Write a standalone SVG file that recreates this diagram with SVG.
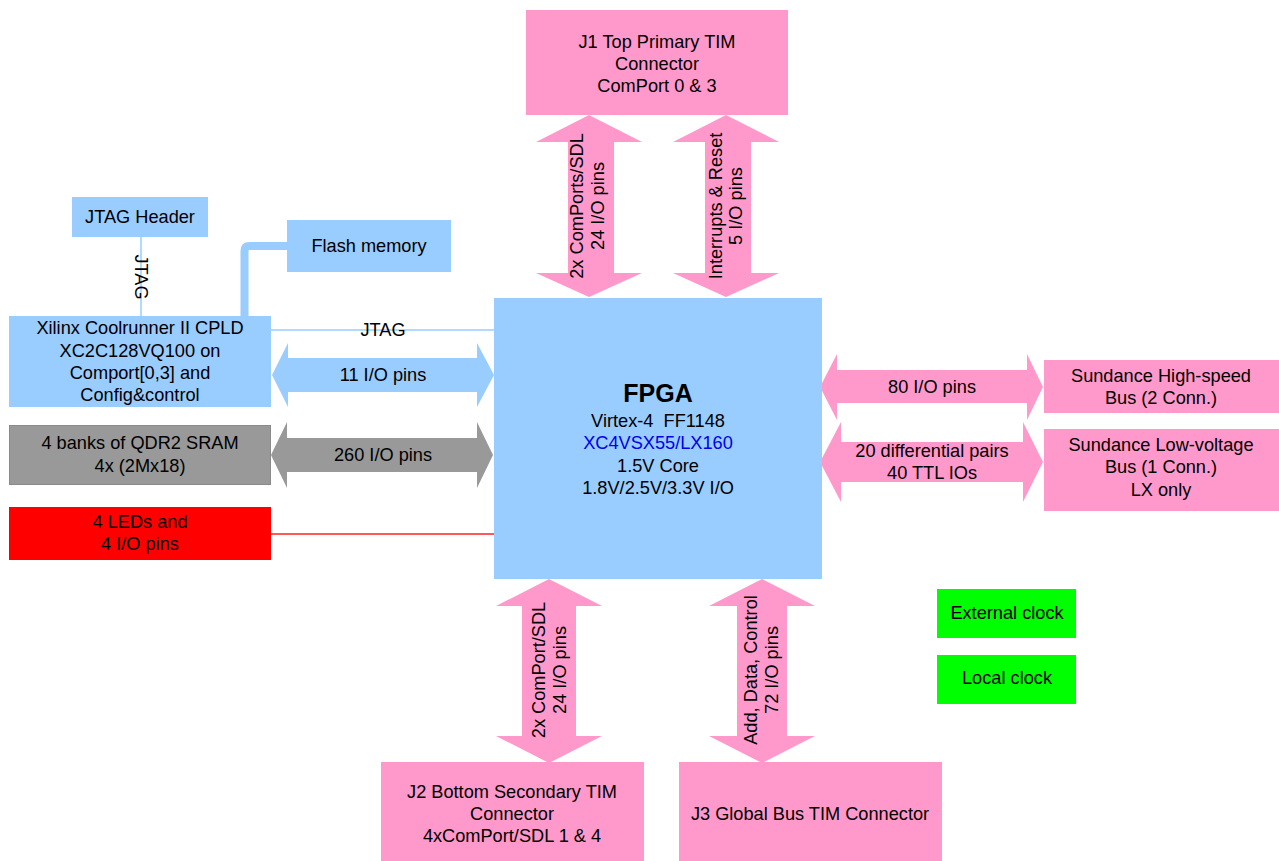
<svg xmlns="http://www.w3.org/2000/svg" width="1279" height="861" viewBox="0 0 1279 861">
<style>
text{font-family:"Liberation Sans",Arial,sans-serif;font-size:18.2px;fill:#000;text-anchor:middle}
.b{fill:#99CCFF}
.p{fill:#FF99CC}
.g{fill:#999999;stroke:#8a8a8a;stroke-width:1}
.r{fill:#FF0000}
.gr{fill:#00FF00}
.ln{stroke:#99CCFF;stroke-width:1.5;fill:none}
</style>
<rect width="1279" height="861" fill="#fff"/>
<g id="connectors">
<line class="ln" x1="141" y1="237" x2="141" y2="316"/>
<text transform="translate(135,277) rotate(90)">JTAG</text>
<line class="ln" x1="271" y1="330" x2="494" y2="330"/>
<text x="383" y="336">JTAG</text>
<path d="M244.5,316 V251 Q244.5,246 249.5,246 H287" fill="none" stroke="#99CCFF" stroke-width="8"/>
<line x1="271" y1="534" x2="494" y2="534" stroke="#FF2020" stroke-width="1.5"/>
<polygon class="b" points="272,375 288,343 288,358 477,358 477,343 494,375 477,407 477,392 288,392 288,407"/>
<text x="383" y="381">11 I/O pins</text>
<polygon fill="#999999" points="271,455 287,422 287,438 477,438 477,422 493,455 477,488 477,472 287,472 287,488"/>
<text x="383" y="461">260 I/O pins</text>
<polygon class="p" points="820,387 837,354 837,370 1027,370 1027,354 1043,387 1027,420 1027,403 837,403 837,420"/>
<text x="932" y="393">80 I/O pins</text>
<polygon class="p" points="820,462 841,422 841,442 1023,442 1023,422 1043,462 1023,502 1023,482 841,482 841,502"/>
<text x="932" y="457">20 differential pairs</text>
<text x="932" y="479">40 TTL IOs</text>
<polygon class="p" points="589,115 642,142 614,142 614,273 642,273 589,297 536,273 568,273 568,142 536,142"/>
<text transform="translate(589,206) rotate(-90)"><tspan x="0" y="-6">2x ComPorts/SDL</tspan><tspan x="0" y="15">24 I/O pins</tspan></text>
<polygon class="p" points="726,115 779,142 751,142 751,273 779,273 726,297 673,273 705,273 705,142 673,142"/>
<text transform="translate(726,206) rotate(-90)"><tspan x="0" y="-4">Interrupts &amp; Reset</tspan><tspan x="0" y="16">5 I/O pins</tspan></text>
<polygon class="p" points="549,579 602,606 576,606 576,736 602,736 549,763 496,736 522,736 522,606 496,606"/>
<text transform="translate(549,670) rotate(-90)"><tspan x="0" y="-4">2x ComPort/SDL</tspan><tspan x="0" y="17">24 I/O pins</tspan></text>
<polygon class="p" points="762,579 815,606 787,606 787,736 815,736 762,763 709,736 737,736 737,606 709,606"/>
<text transform="translate(762,670) rotate(-90)"><tspan x="0" y="-5">Add, Data, Control</tspan><tspan x="0" y="16">72 I/O pins</tspan></text>
</g>
<g id="j1"><rect class="p" x="526" y="10" width="262" height="105"/>
<text x="657" y="48">J1 Top Primary TIM</text><text x="657" y="70">Connector</text><text x="657" y="92">ComPort 0 &amp; 3</text></g>
<g id="jtag-header"><rect class="b" x="72" y="197" width="136" height="40"/><text x="140" y="223">JTAG Header</text></g>
<g id="flash"><rect class="b" x="287" y="220" width="164" height="52"/><text x="369" y="252">Flash memory</text></g>
<g id="cpld"><rect class="b" x="9" y="316" width="262" height="91"/>
<text x="140" y="334">Xilinx Coolrunner II CPLD</text><text x="140" y="357">XC2C128VQ100 on</text><text x="140" y="379">Comport[0,3] and</text><text x="140" y="401">Config&amp;control</text></g>
<g id="qdr2"><rect class="g" x="9.5" y="425.5" width="261" height="59"/>
<text x="140" y="449">4 banks of QDR2 SRAM</text><text x="140" y="472">4x (2Mx18)</text></g>
<g id="leds"><rect class="r" x="9" y="507" width="262" height="53"/>
<text x="140" y="528">4 LEDs and</text><text x="140" y="550">4 I/O pins</text></g>
<g id="fpga"><rect class="b" x="494" y="298" width="328" height="281"/>
<text x="658" y="402" style="font-weight:bold;font-size:25px">FPGA</text>
<text x="658" y="427" style="white-space:pre" xml:space="preserve">Virtex-4  FF1148</text>
<text x="658" y="449" style="fill:#0000EE">XC4VSX55/LX160</text>
<text x="658" y="472">1.5V Core</text>
<text x="658" y="494">1.8V/2.5V/3.3V I/O</text></g>
<g id="sundance-hs"><rect class="p" x="1044" y="360" width="235" height="53"/>
<text x="1161" y="382">Sundance High-speed</text><text x="1161" y="404">Bus (2 Conn.)</text></g>
<g id="sundance-lv"><rect class="p" x="1044" y="429" width="235" height="82"/>
<text x="1161" y="451">Sundance Low-voltage</text><text x="1161" y="473">Bus (1 Conn.)</text><text x="1161" y="496">LX only</text></g>
<g id="ext-clock"><rect class="gr" x="937" y="589" width="139" height="49"/><text x="1007" y="619">External clock</text></g>
<g id="local-clock"><rect class="gr" x="937" y="655" width="139" height="49"/><text x="1007" y="684">Local clock</text></g>
<g id="j2"><rect class="p" x="381" y="762" width="263" height="99"/>
<text x="512" y="798">J2 Bottom Secondary TIM</text><text x="512" y="820">Connector</text><text x="512" y="842">4xComPort/SDL 1 &amp; 4</text></g>
<g id="j3"><rect class="p" x="679" y="762" width="263" height="99"/><text x="810" y="820">J3 Global Bus TIM Connector</text></g>
</svg>
